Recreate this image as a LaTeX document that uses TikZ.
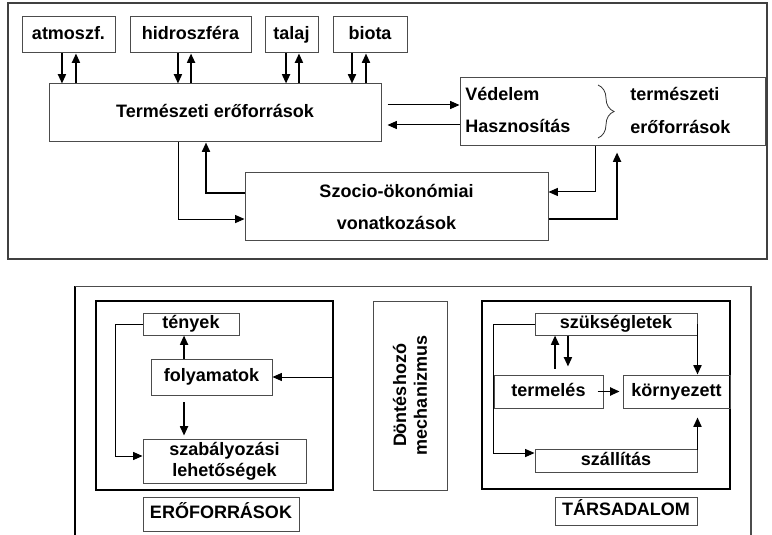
\documentclass[tikz,border=0pt]{standalone}
\usepackage{fontspec}
\setmainfont{Liberation Sans}
\usetikzlibrary{arrows.meta, decorations.pathreplacing}

\begin{document}
\begin{tikzpicture}[x=0.75pt, y=-0.75pt]

\tikzset{boxbase/.style = {draw=black!70, line width=0.75pt, inner sep=0pt, font=\fontsize{13.5}{16}\selectfont\bfseries}}
\tikzset{box/.style = {boxbase, text height=9.8pt, text depth=2.8pt}}
\tikzset{frame/.style = {draw=black, line width=1.5pt, inner sep=0pt}}
\tikzset{word/.style = {inner sep=0pt, anchor=west, text height=9.8pt, text depth=2.8pt, font=\fontsize{13.5}{16}\selectfont\bfseries}}
\tikzset{edge/.style = {->, > = {Triangle[length=7pt,width=6pt]}, line width=0.75pt}}
\tikzset{bold edge/.style = {edge, line width=1.3pt}}

\useasboundingbox (0,0) rectangle (772,535);

% upper part
\draw[draw=black!75, line width=1.1pt] (8,3) rectangle (767,259);

\node[box, minimum width=69.75pt, minimum height=27pt] (atm) at (68.5,35) {atmoszf.};
\node[box, minimum width=90.75pt, minimum height=27pt] (hid) at (190.5,35) {hidroszféra};
\node[box, minimum width=39.75pt, minimum height=27pt] (tal) at (291.5,35) {talaj};
\node[box, minimum width=55.5pt, minimum height=27pt] (bio) at (370,35) {biota};
\node[box, minimum width=249pt, minimum height=43.5pt] (term) at (215,113) {Természeti erőforrások};
\node[box, minimum width=228.75pt, minimum height=51pt] (ved) at (612.5,112) {};
\node[boxbase, minimum width=227.25pt, minimum height=50.25pt, align=center,
      font=\fontsize{13.5}{24}\selectfont\bfseries] (szocio) at (396.5,206.5) {Szocio-ökonómiai\\vonatkozások};

\node[word] (vedelem) at (465,96) {Védelem};
\node[word] (haszn) at (465,128) {Hasznosítás};
\node[word] (termesz) at (630,96) {természeti};
\node[word] (erof) at (630,129) {erőforrások};
\draw[black!80, line width=0.6pt, decorate,
      decoration={brace, amplitude=12pt}] (598,85) -- (598,138);

%edges
\draw[bold edge] ([xshift=-4.9pt]atm.south) -- ([xshift=-4.9pt]atm.south |- term.north);
\draw[bold edge] ([xshift=5.6pt]atm.south |- term.north) -- ([xshift=5.6pt]atm.south);
\draw[bold edge] ([xshift=-9.4pt]hid.south) -- ([xshift=-9.4pt]hid.south |- term.north);
\draw[bold edge] ([xshift=0.4pt]hid.south |- term.north) -- ([xshift=0.4pt]hid.south);
\draw[bold edge] ([xshift=-4.1pt]tal.south) -- ([xshift=-4.1pt]tal.south |- term.north);
\draw[bold edge] ([xshift=5.6pt]tal.south |- term.north) -- ([xshift=5.6pt]tal.south);
\draw[bold edge] ([xshift=-13.5pt]bio.south) -- ([xshift=-13.5pt]bio.south |- term.north);
\draw[bold edge] ([xshift=-3pt]bio.south |- term.north) -- ([xshift=-3pt]bio.south);

\draw[edge] ([xshift=4.5pt,yshift=6pt]term.east) -- ([yshift=6pt]term.east -| ved.west);
\draw[edge] ([yshift=-9pt]term.east -| ved.west) -- ([xshift=4.5pt,yshift=-9pt]term.east);

\draw[edge] ([xshift=-27.75pt]term.south) |- ([yshift=-9.4pt]szocio.west);
\draw[bold edge] ([yshift=10.1pt]szocio.west) -| ([xshift=-6.75pt]term.south);
\draw[edge] ([xshift=-12.4pt]ved.south) |- ([yshift=10.9pt]szocio.east);
\draw[bold edge] ([yshift=-9.4pt]szocio.east) -| ([xshift=3.4pt,yshift=-4.5pt]ved.south);

% lower part
\draw[line width=1.5pt] (75,535) -- (75,286);
\draw[draw=black!70, line width=0.75pt] (75,286) -- (751,286);
\draw[draw=black!70, line width=1.1pt] (751,286) -- (751,535);

\node[frame, minimum width=177.75pt, minimum height=141.75pt] (eframe) at (214.5,395.5) {};
\node[box, minimum width=72pt, minimum height=16.5pt] (tenyek) at (191,324) {tények};
\node[box, minimum width=90.75pt, minimum height=27pt] (folyam) at (211.5,377) {folyamatok};
\node[boxbase, minimum width=122.25pt, minimum height=33pt, align=center,
      font=\fontsize{13.5}{16}\selectfont\bfseries] (szab) at (224.5,461) {szabályozási\\lehetőségek};
\node[box, minimum width=117pt, minimum height=25.5pt] (eroforr) at (221,514) {ERŐFORRÁSOK};

\node[box, minimum width=55.5pt, minimum height=141.75pt] (dontes) at (410,395.5) {};
\node[align=center, rotate=90, inner sep=0pt, font=\fontsize{13.5}{15.6}\selectfont\bfseries] (donteslabel) at (dontes.center) {Döntéshozó\\mechanizmus};

\node[frame, minimum width=186pt, minimum height=141pt] (tframe) at (606,395) {};
\node[box, minimum width=121.5pt, minimum height=16.5pt] (szuks) at (616,324) {szükségletek};
\node[box, minimum width=81.75pt, minimum height=24.75pt] (termel) at (548.5,391.5) {termelés};
\node[box, minimum width=80.25pt, minimum height=24.75pt] (kornyez) at (676.5,391.5) {környezett};
\node[box, minimum width=121.5pt, minimum height=17.25pt] (szall) at (616,460.5) {szállítás};
\node[box, minimum width=106.5pt, minimum height=21pt] (tars) at (626,511) {TÁRSADALOM};

%edges
\draw[bold edge] ([xshift=-20.6pt]folyam.north) -- ([xshift=-20.6pt]folyam.north |- tenyek.south);
\draw[bold edge, shorten <=5pt, shorten >=2.2pt] ([xshift=-20.6pt]folyam.south) -- ([xshift=-20.6pt]folyam.south |- szab.north);
\draw[edge] (tenyek.west) -- ++(-20.25pt,0) |- ([yshift=3.75pt]szab.west);
\draw[edge] (eframe.east |- folyam.east) -- (folyam.east);

\draw[bold edge] ([xshift=4.9pt,yshift=4.5pt]termel.north) -- ([xshift=4.9pt]termel.north |- szuks.south);
\draw[bold edge] ([xshift=14.6pt]termel.north |- szuks.south) -- ([xshift=14.6pt,yshift=6pt]termel.north);
\draw[bold edge] ([xshift=-4.5pt]termel.east) -- ([xshift=-2.2pt]kornyez.west);
\draw[bold edge] (szuks.east) -- (szuks.east |- kornyez.north);
\draw[edge] (szuks.west) -- (szuks.west -| termel.west) |- ([yshift=5.6pt]szall.west);
\draw[bold edge] ([yshift=7.9pt]szall.east) -- ([yshift=-6.75pt]szall.east |- kornyez.south);

\end{tikzpicture}
\end{document}
